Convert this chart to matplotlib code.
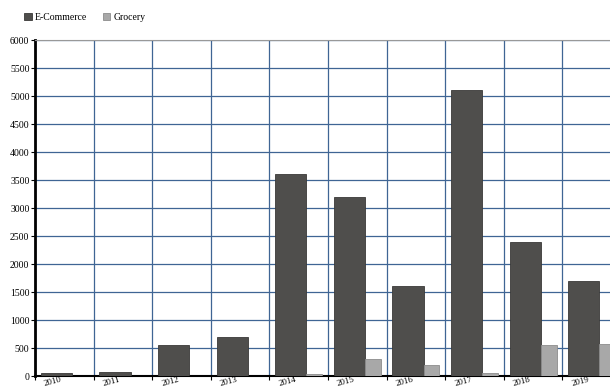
import matplotlib
matplotlib.use("Agg")
import matplotlib.pyplot as plt
import numpy as np

years = ['2010', '2011', '2012', '2013', '2014', '2015', '2016', '2017', '2018', '2019']
ecommerce = [60, 80, 560, 700, 3600, 3200, 1600, 5100, 2400, 1700]
grocery = [0, 0, 0, 0, 30, 300, 200, 50, 550, 580]

plt.rcParams['font.family'] = ['Liberation Serif', 'DejaVu Serif']

fig = plt.figure(figsize=(6.1, 3.89), dpi=100)
ax = fig.add_axes([35 / 610, 13 / 389, 586 / 610, 336 / 389])

x = np.arange(len(years))
ax.bar(x + 0.1, ecommerce, width=0.53, align='edge', color='#4f4e4c',
       edgecolor='#3a3938', linewidth=0.6, label='E-Commerce', zorder=3)
ax.bar(x + 0.63, grocery, width=0.27, align='edge', color='#a8a8a8',
       edgecolor='#8c8c8c', linewidth=0.6, label='Grocery', zorder=3)

ax.set_xlim(0, len(years))
ax.set_ylim(0, 6000)
ax.set_yticks(np.arange(0, 6001, 500))
ax.tick_params(axis='y', labelsize=7, length=3, pad=1)

ax.set_xticks(x)
ax.set_xticklabels([])
ax.set_xticks(x + 0.31, minor=True)
ax.set_xticklabels(years, minor=True, rotation=15, fontsize=6.5)
ax.tick_params(axis='x', which='major', length=3)
ax.tick_params(axis='x', which='minor', length=0, pad=0)

ax.grid(True, which='major', color='#3f6594', linewidth=0.9, zorder=0)
ax.set_axisbelow(True)

ax.spines['left'].set_color('black')
ax.spines['left'].set_linewidth(2)
ax.spines['bottom'].set_color('black')
ax.spines['bottom'].set_linewidth(1.5)
ax.spines['top'].set_color('#999999')
ax.spines['right'].set_visible(False)

fig.legend(loc='upper left', bbox_to_anchor=(0.025, 0.99), ncol=2, frameon=False,
           fontsize=7, handlelength=0.8, handleheight=0.8, handletextpad=0.3,
           columnspacing=1.6)

fig.savefig('out.png', dpi=100)
